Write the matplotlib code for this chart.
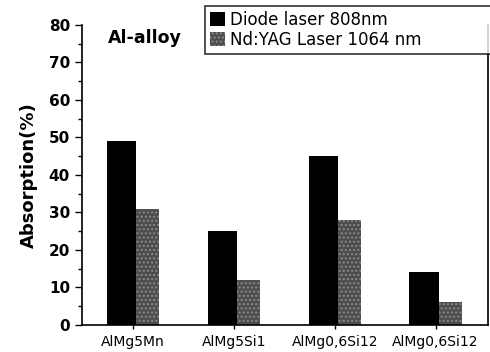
import numpy as np
import matplotlib
matplotlib.use("Agg")
import matplotlib.pyplot as plt
from matplotlib.ticker import MultipleLocator

plt.rcParams['font.family'] = ['DejaVu Sans']

alloys = ['AlMg5Mn', 'AlMg5Si1', 'AlMg0,6Si12', 'AlMg0,6Si12']
diode = [49, 25, 45, 14]
ndyag = [31, 12, 28, 6]
series_names = ['Diode laser 808nm', 'Nd:YAG Laser 1064 nm']

fig = plt.figure(figsize=(4.9, 3.52), dpi=100)
ax = fig.add_axes([0.167, 0.077, 0.829, 0.852])

x = np.arange(len(alloys))
w1, w2 = 0.29, 0.23
b1 = ax.bar(x - 0.26, diode, width=w1, align='edge', color='black', label=series_names[0])
b2 = ax.bar(x - 0.26 + w1, ndyag, width=w2, align='edge', color='#4d4d4d',
            hatch='....', edgecolor='#8a8a8a', linewidth=0, label=series_names[1])

ax.set_xlim(-0.51, 3.52)
ax.set_ylim(0, 80)
ax.yaxis.set_major_locator(MultipleLocator(10))
ax.yaxis.set_minor_locator(MultipleLocator(5))
ax.set_xticks(x)
ax.set_xticklabels(alloys, fontsize=10)
ax.tick_params(axis='y', labelsize=11, length=5, width=1, direction='out')
ax.tick_params(axis='y', which='minor', length=3, width=1)
ax.tick_params(axis='x', length=3, width=1, pad=4)
for lab in ax.get_yticklabels():
    lab.set_fontweight('bold')

ax.spines['top'].set_visible(False)
for s in ['left', 'bottom', 'right']:
    ax.spines[s].set_linewidth(1.2)

ax.set_ylabel('Absorption(%)', fontsize=13, fontweight='bold', labelpad=8)
ax.text(0.065, 0.955, 'Al-alloy', transform=ax.transAxes, fontsize=12.5,
        fontweight='bold', va='center')

leg = fig.legend(handles=[b1, b2], loc='upper left',
                 bbox_to_anchor=(0.418, 0.55, 0.6, 0.433), mode='expand',
                 fontsize=12, frameon=True, fancybox=False, edgecolor='black',
                 handlelength=0.9, handleheight=0.9, handletextpad=0.3,
                 borderpad=0.3, labelspacing=0.1, borderaxespad=0)
leg.get_frame().set_linewidth(1.2)

fig.savefig('out.png', dpi=100)
